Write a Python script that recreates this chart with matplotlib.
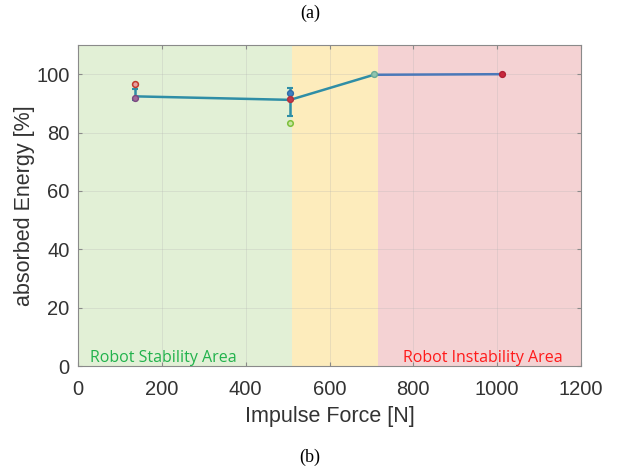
import matplotlib
matplotlib.use("Agg")
import matplotlib.pyplot as plt

# Data
force_mean = [137, 506, 706]
energy_mean = [92.4, 91.2, 99.8]
err_low = [1.3, 5.6, 0.0]
err_high = [2.5, 3.9, 0.0]

force_high = [706, 1012]
energy_high = [99.8, 100.0]

# individual trial markers
red_open_x = [137]
red_open_y = [96.8]
purple_x = [137]
purple_y = [91.8]
blue_x = [506]
blue_y = [93.4]
red_x = [506]
red_y = [91.4]
green_x = [506]
green_y = [83.4]
teal_x = [706]
teal_y = [100.0]
red_hi_x = [1012]
red_hi_y = [100.0]

zones = [(0, 510, '#e2f0d6'), (510, 716, '#fdecbc'), (716, 1200, '#f4d2d3')]

xticks = [0, 200, 400, 600, 800, 1000, 1200]
yticks = [0, 20, 40, 60, 80, 100]

fig = plt.figure(figsize=(6.2, 4.71), dpi=100)
ax = fig.add_axes([78/620, 1 - 366/471, (581-78)/620, (366-45)/471])

for x0, x1, c in zones:
    ax.axvspan(x0, x1, color=c, lw=0, zorder=0)

ax.set_xlim(0, 1200)
ax.set_ylim(0, 110)
ax.set_xticks(xticks)
ax.set_yticks(yticks)
ax.grid(True, color='#b0b0b0', lw=0.6, alpha=0.3, zorder=1)
ax.set_axisbelow(True)

ax.plot(force_high, energy_high, color='#4a78b8', lw=1.8, zorder=3)
ax.errorbar(force_mean, energy_mean, yerr=[err_low, err_high], color='#2f8ea6',
            lw=1.8, elinewidth=1.8, capsize=2.5, capthick=1.5, zorder=4)

ms = 4.2
ax.plot(red_open_x, red_open_y, 'o', ms=ms, mfc='#e8a0a0', mec='#c0392b', mew=1.1, zorder=5)
ax.plot(purple_x, purple_y, 'o', ms=ms, mfc='#a06a9a', mec='#7a4a80', mew=1.0, zorder=5)
ax.plot(blue_x, blue_y, 'o', ms=ms, mfc='#3d7fc0', mec='#2f6aa8', mew=1.0, zorder=5)
ax.plot(red_x, red_y, 'o', ms=ms, mfc='#c0394a', mec='#b0303f', mew=1.0, zorder=5)
ax.plot(green_x, green_y, 'o', ms=4, mfc='#c8e6a0', mec='#7cbf3a', mew=1.1, zorder=5)
ax.plot(teal_x, teal_y, 'o', ms=ms, mfc='#8fc4b0', mec='#6aaa95', mew=1.0, zorder=5)
ax.plot(red_hi_x, red_hi_y, 'o', ms=ms, mfc='#c8283c', mec='#b02035', mew=1.0, zorder=5)

for sp in ax.spines.values():
    sp.set_color('#8a8a8a')
    sp.set_linewidth(0.8)
ax.tick_params(direction='in', length=3, color='#8a8a8a', top=True, right=True,
               labelsize=14.5, labelcolor='#333333')
ax.tick_params(axis='x', pad=10)
ax.tick_params(axis='y', pad=6)
for lab in ax.get_xticklabels() + ax.get_yticklabels():
    lab.set_family('Liberation Sans')

ax.set_xlabel('Impulse Force [N]', fontsize=15.5, color='#333333', family='Liberation Sans', labelpad=5)
ax.set_ylabel('absorbed Energy [%]', fontsize=15.5, color='#333333', family='Liberation Sans', labelpad=1)

ax.text(29, 2.8, 'Robot Stability Area', color='#22b24c', fontsize=11.5, family='Open Sans',
        va='center', ha='left', zorder=6)
ax.text(776, 2.8, 'Robot Instability Area', color='#ff1a1a', fontsize=11.5, family='Open Sans',
        va='center', ha='left', zorder=6)

fig.text(0.5, 1 - 13/471, '(a)', ha='center', va='center', fontsize=13, family='Liberation Serif')
fig.text(0.5, 1 - 457/471, '(b)', ha='center', va='center', fontsize=13, family='Liberation Serif')

fig.savefig('out.png', dpi=100)
